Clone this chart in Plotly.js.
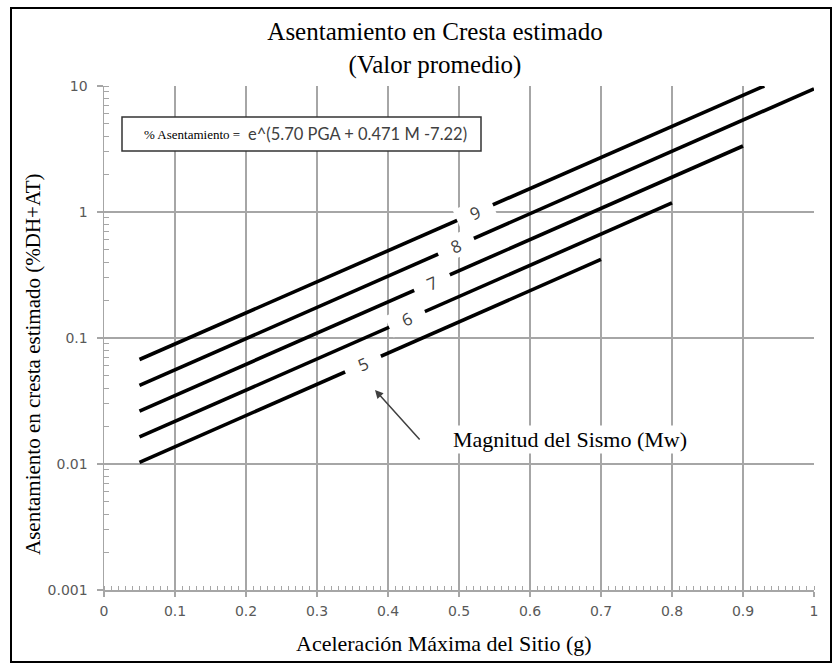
<!DOCTYPE html>
<html>
<head>
<meta charset="utf-8">
<script src="https://cdn.plot.ly/plotly-3.0.1.min.js"></script>
<style>html,body{margin:0;padding:0;background:#fff;}#chart{width:833px;height:664px;}</style>
</head>
<body>
<div id="chart"></div>
<script>
// ---- data ----
var magnitudes   = [5, 6, 7, 8, 9];
var pgaStart     = [0.05, 0.05, 0.05, 0.05, 0.05];
var pgaEnd       = [0.70, 0.80, 0.90, 1.00, 0.93];
var settleStart  = [0.0103, 0.0164, 0.0263, 0.042, 0.0675];
var settleEnd    = [0.42, 1.18, 3.34, 9.5, 10.0];
var labelPga     = [0.365, 0.427, 0.462, 0.496, 0.5225];
var xTickVals    = [0, 0.1, 0.2, 0.3, 0.4, 0.5, 0.6, 0.7, 0.8, 0.9, 1];
var xTickText    = ['0', '0.1', '0.2', '0.3', '0.4', '0.5', '0.6', '0.7', '0.8', '0.9', '1'];
var yTickVals    = [0.001, 0.01, 0.1, 1, 10];
var yTickText    = ['0.001', '0.01', '0.1', '1', '10'];

// ---- layout geometry ----
var W = 833, H = 664;
var M = {l: 104, r: 19, t: 86, b: 74};
var plotW = W - M.l - M.r, plotH = H - M.t - M.b;
var xRange = [0, 1], yRange = [-3, 1];
function px(xp){ return (xp - M.l) / plotW; }       // pixel -> paper x
function py(yp){ return (H - M.b - yp) / plotH; }   // pixel -> paper y

var traces = magnitudes.map(function(m, i){
  return {
    type: 'scatter', mode: 'lines',
    x: [pgaStart[i], pgaEnd[i]],
    y: [settleStart[i], settleEnd[i]],
    line: {color: '#000000', width: 3.6},
    name: 'M' + m, showlegend: false, hoverinfo: 'skip'
  };
});

var annotations = [];
magnitudes.forEach(function(m, i){
  var ls = Math.log10(settleStart[i]), le = Math.log10(settleEnd[i]);
  var slope = (le - ls) / (pgaEnd[i] - pgaStart[i]);
  var ly = ls + (labelPga[i] - pgaStart[i]) * slope;
  var ang = Math.atan((slope * plotH / (yRange[1]-yRange[0])) / (plotW / (xRange[1]-xRange[0]))) * 180 / Math.PI;
  annotations.push({
    x: labelPga[i], y: ly, xref: 'x', yref: 'y',
    text: String(m), showarrow: false, textangle: -ang,
    font: {family: 'Open Sans, sans-serif', size: 17, color: '#404040'},
    bgcolor: '#ffffff', width: 38, height: 22, borderpad: 0,
    xanchor: 'center', yanchor: 'middle'
  });
});

// axis titles (placed as in the reference)
annotations.push({
  xref: 'paper', yref: 'paper', x: px(444), y: py(643), showarrow: false,
  text: 'Aceleración Máxima del Sitio (g)',
  font: {family: 'Liberation Serif, serif', size: 22, color: '#000'},
  xanchor: 'center', yanchor: 'middle'
});
annotations.push({
  xref: 'paper', yref: 'paper', x: px(33), y: py(364), showarrow: false, textangle: -90,
  text: 'Asentamiento en cresta estimado (%DH+AT)',
  font: {family: 'Liberation Serif, serif', size: 21, color: '#000'},
  xanchor: 'center', yanchor: 'middle'
});

// equation box texts
annotations.push({
  xref: 'paper', yref: 'paper', x: px(192), y: py(134), showarrow: false,
  text: '% Asentamiento =', font: {family: 'Liberation Serif, serif', size: 13, color: '#000'},
  xanchor: 'center', yanchor: 'middle'
});
annotations.push({
  xref: 'paper', yref: 'paper', x: px(357), y: py(134), showarrow: false,
  text: 'e^(5.70 PGA + 0.471 M -7.22)', font: {family: 'Lato, sans-serif', size: 16.5, color: '#404040'},
  xanchor: 'center', yanchor: 'middle'
});
// magnitude label and arrow
annotations.push({
  xref: 'paper', yref: 'paper', x: px(570), y: py(439), showarrow: false,
  text: 'Magnitud del Sismo (Mw)', font: {family: 'Liberation Serif, serif', size: 22, color: '#000'},
  bgcolor: '#ffffff', xanchor: 'center', yanchor: 'middle'
});
annotations.push({
  xref: 'paper', yref: 'paper', x: px(375), y: py(390), text: '',
  showarrow: true, ax: 46, ay: 51, axref: 'pixel', ayref: 'pixel',
  arrowhead: 2, arrowsize: 1.1, arrowwidth: 1.5, arrowcolor: '#404040', standoff: 0
});

var shapes = [
  {type: 'rect', xref: 'paper', yref: 'paper', x0: px(122), x1: px(481), y0: py(151), y1: py(117),
   line: {color: '#333333', width: 1.5}, fillcolor: '#ffffff', layer: 'above'},
  {type: 'rect', xref: 'paper', yref: 'paper', x0: px(11), x1: px(831), y0: py(662), y1: py(8),
   line: {color: '#000000', width: 2}, fillcolor: 'rgba(0,0,0,0)', layer: 'above'}
];

var tickFont = {family: 'DejaVu Sans, sans-serif', size: 14, color: '#595959'};
var layout = {
  width: W, height: H,
  margin: M,
  paper_bgcolor: '#ffffff', plot_bgcolor: '#ffffff',
  showlegend: false,
  title: {
    text: 'Asentamiento en Cresta estimado<br>(Valor promedio)',
    x: 435 / W, xanchor: 'center', xref: 'container',
    y: 1 - 40 / H, yanchor: 'middle', yref: 'container',
    font: {family: 'Liberation Serif, serif', size: 25, color: '#000'}
  },
  xaxis: {
    range: xRange, tickmode: 'array', tickvals: xTickVals, ticktext: xTickText,
    showgrid: true, gridcolor: '#a6a6a6', gridwidth: 1.5,
    showline: true, linecolor: '#a6a6a6', linewidth: 1.5, zeroline: false,
    ticks: 'outside', ticklen: 5, tickcolor: '#a6a6a6', tickwidth: 1.5,
    minor: {dtick: 0.01, ticks: 'inside', ticklen: 4, tickcolor: '#a6a6a6', tickwidth: 1, showgrid: false},
    tickfont: tickFont, ticklabelstandoff: 3
  },
  yaxis: {
    type: 'log', range: yRange, tickmode: 'array', tickvals: yTickVals, ticktext: yTickText,
    showgrid: true, gridcolor: '#a6a6a6', gridwidth: 1.5,
    showline: true, linecolor: '#a6a6a6', linewidth: 1.5, zeroline: false,
    ticks: 'outside', ticklen: 6, tickcolor: '#a6a6a6', tickwidth: 1.5,
    minor: {dtick: 'D1', ticks: 'inside', ticklen: 5, tickcolor: '#a6a6a6', tickwidth: 1, showgrid: false},
    tickfont: tickFont, ticklabelstandoff: 6
  },
  annotations: annotations,
  shapes: shapes
};

Plotly.newPlot('chart', traces, layout, {staticPlot: true, displayModeBar: false});
</script>
</body>
</html>
